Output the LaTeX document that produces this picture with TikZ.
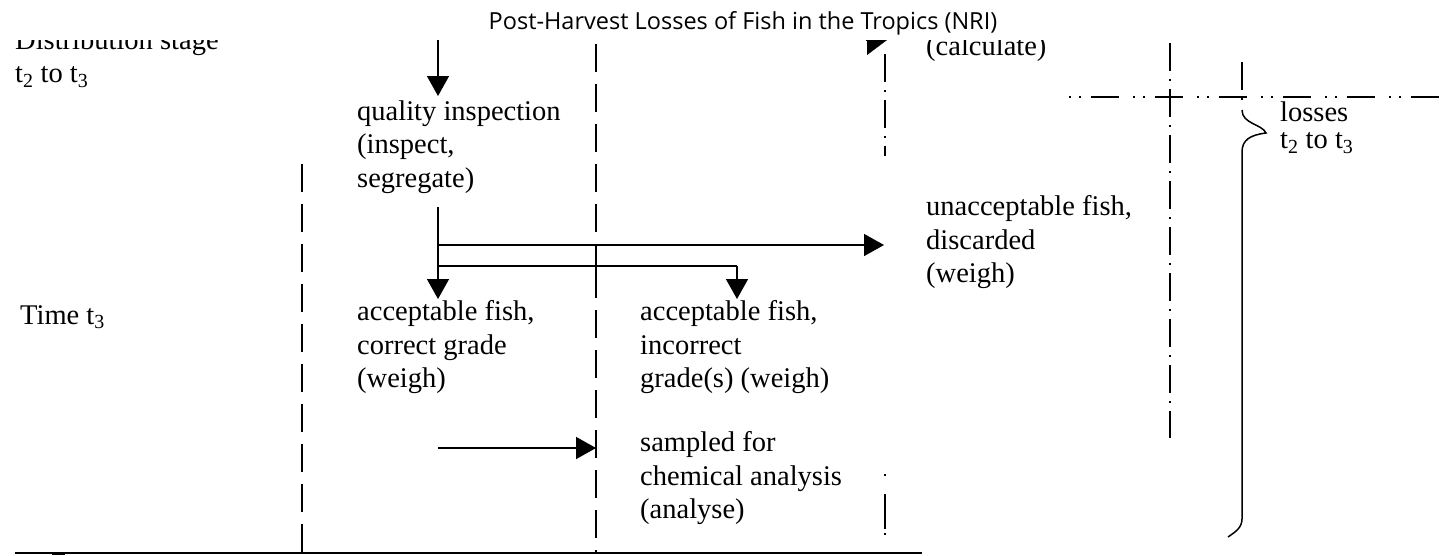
\documentclass[tikz,border=0pt]{standalone}
\usepackage{fontspec}
\setmainfont{Liberation Serif}
\newfontfamily\titlefont{Open Sans}
\usetikzlibrary{arrows.meta}

\begin{document}
\begin{tikzpicture}[x=1pt,y=-1pt,
  lbl/.style={anchor=north west,inner sep=0pt,align=left,font=\fontsize{28.5}{33.5}\selectfont,execute at begin node=\strut},
  flow/.style={line width=1.5pt,-{Triangle[length=20pt,width=22pt]}},
  plain/.style={line width=1.5pt},
  border/.style={line width=1.5pt,dash pattern=on 28pt off 12pt},
  borderdot/.style={line width=1.5pt,dash pattern=on 28pt off 8pt on 2pt off 8pt}]
\useasboundingbox (0,0) rectangle (1440,555);
% title
\node[inner sep=0pt,anchor=base,font=\titlefont\fontsize{23.5}{26}\selectfont] (title) at (743,29) {Post-Harvest Losses of Fish in the Tropics (NRI)};
\begin{scope}
\clip (0,40) rectangle (1440,555);
% row labels
\node[lbl] (stage) at (15,29.5) {Distribution stage\\t\textsubscript{2} to t\textsubscript{3}};
\node[lbl] (timeT) at (20,300.5) {Time t\textsubscript{3}};
% steps
\node[lbl] (quality) at (357,100.5) {quality inspection\\(inspect,\\segregate)};
\node[lbl] (accok) at (357,300.5) {acceptable fish,\\correct grade\\(weigh)};
\node[lbl] (accbad) at (640,300.5) {acceptable fish,\\incorrect\\grade(s) (weigh)};
\node[lbl] (sampled) at (640,431.5) {sampled for\\chemical analysis\\(analyse)};
\node[lbl] (calc) at (926,31.5) {(calculate)};
\node[lbl] (unacc) at (926,195.5) {unacceptable fish,\\discarded\\(weigh)};
\node[lbl,font=\fontsize{28.5}{27}\selectfont] (losses) at (1280,101.5) {losses\\t\textsubscript{2} to t\textsubscript{3}};
% connector points
\coordinate (in) at (438,38);
\coordinate (split) at (438,207);
\coordinate (rej) at (438,245);
\coordinate (fork) at (438,266);
\coordinate (bend) at (737,266);
\coordinate (smp) at (438,448);
\coordinate (calcin) at (866,40);
% flow arrows
\draw[flow,shorten >=4.5pt] (in) -- (in |- quality.north);
\draw[flow,shorten >=1.5pt] (split) -- (split |- accok.north);
\draw[flow,shorten >=42pt] (rej) -- (rej -| unacc.west);
\draw[plain] (fork) -- (bend);
\draw[flow,shorten >=1.5pt] (bend) -- (bend |- accbad.north);
\draw[flow,shorten >=44pt] (smp) -- (smp -| sampled.west);
\draw[-{Triangle[length=20pt,width=30pt]}] (calcin) -- ++(21,0);
% stage boundaries
\draw[border] (302,164) -- (302,553);
\draw[border,line width=2.2pt] (596,44) -- (596,270);
\draw[border] (596,270) -- (596,553);
\draw[borderdot] (885,54) -- (885,156);
\draw[border,dash pattern=on 2pt off 18pt on 35pt off 4pt] (885,474) -- (885,553);
\draw[borderdot] (1170,43) -- (1170,438);
\draw[border,dash pattern=on 2pt off 8pt on 2pt off 10pt on 28pt off 14pt] (1069,97) -- (1440,97);
\draw[borderdot] (1242,62) -- (1242,100);
% brace for losses
\draw[plain] (1242,110) .. controls (1242,124) and (1262,124) .. (1266,133)
  .. controls (1250,135) and (1242,140) .. (1242,152) -- (1242,519)
  .. controls (1242,528) and (1235,532) .. (1228,537);
% base line
\draw[plain] (15,553) -- (922,553);
\draw[line width=3pt] (52,553) -- (65,553);
\end{scope}
\end{tikzpicture}
\end{document}
